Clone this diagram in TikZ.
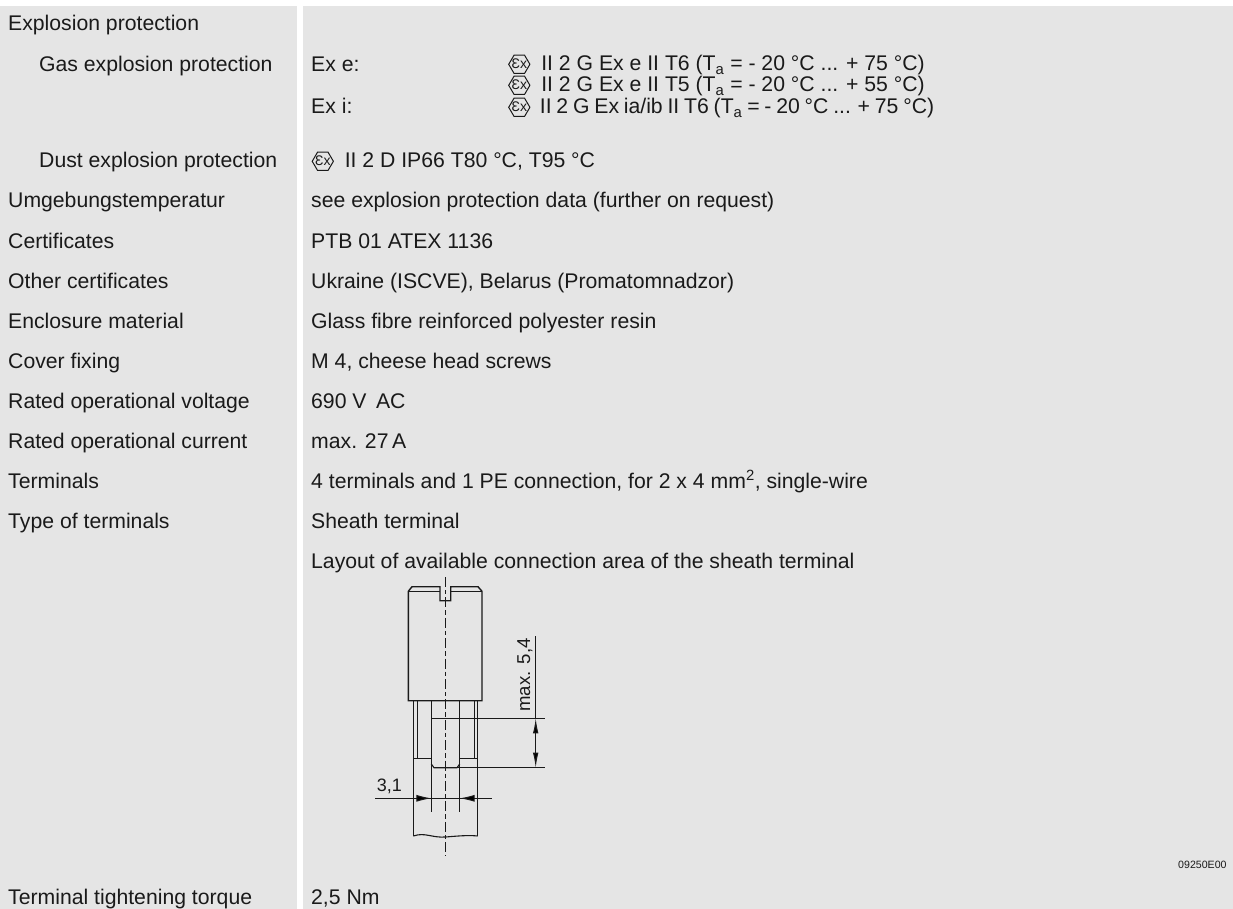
\documentclass[tikz,border=0pt]{standalone}
\usepackage{fontspec}
\setmainfont{Liberation Sans}
\usetikzlibrary{arrows.meta}
\definecolor{panelgray}{HTML}{E5E5E5}
\definecolor{inkgray}{HTML}{1A1A1A}
\newcommand{\exmark}{\tikz[baseline=-6.7pt,x=1pt,y=1pt,line width=1pt]{\draw[inkgray] (-10.6,0) -- (-5.2,9.2) -- (5.2,9.2) -- (10.6,0) -- (5.2,-9.2) -- (-5.2,-9.2) -- cycle; \node[anchor=center,inner sep=0pt,text=inkgray,font=\fontsize{14}{14}\selectfont] at (0,.2) {Ɛx};}\kern5pt}
\begin{document}
\begin{tikzpicture}[x=1pt,y=-1pt,
    every node/.style={anchor=base west,inner sep=0pt,text=inkgray,font=\fontsize{21.2}{21.2}\selectfont},
    part/.style={line width=1.4pt,draw=inkgray},
    thinpart/.style={line width=1.1pt,draw=inkgray},
    measure/.style={line width=1pt,draw=inkgray},
    dimarrow/.style={line width=1pt,draw=inkgray,{Latex[length=15pt,width=5.5pt]}-{Latex[length=15pt,width=5.5pt]}}]
\useasboundingbox (0,0) rectangle (1233,909);
% panels
\fill[panelgray] (0,6) rectangle (296.5,909);
\fill[panelgray] (303,6) rectangle (1233,909);
% left column
\node (explosion) at (8,31) {Explosion protection};
\node (gas) at (39,71.5) {Gas explosion protection};
\node (dust) at (39,168) {Dust explosion protection};
\node (ambient) at (8,208) {Umgebungstemperatur};
\node (certs) at (8,248) {Certificates};
\node (othercerts) at (8,288) {Other certificates};
\node (material) at (8,328) {Enclosure material};
\node (cover) at (8,368) {Cover fixing};
\node (voltage) at (8,408) {Rated operational voltage};
\node (current) at (8,448) {Rated operational current};
\node (terminals) at (8,488) {Terminals};
\node (termtype) at (8,528) {Type of terminals};
\node (torque) at (8,904.5) {Terminal tightening torque};
% right column
\node (exe) at (311,71.5) {Ex e:};
\node (exi) at (311,114) {Ex i:};
\node (markone) at (508,71) {\exmark\ II 2 G Ex e II T6 (T\textsubscript{a} = - 20 °C ... + 75 °C)};
\node (marktwo) at (508,92) {\exmark\ II 2 G Ex e II T5 (T\textsubscript{a} = - 20 °C ... + 55 °C)};
\node (markthree) at (508,114) {\spaceskip=4.8pt \exmark\kern4.5pt II 2 G Ex ia/ib II T6 (T\textsubscript{a} = - 20 °C ... + 75 °C)};
\node (dustval) at (311.5,168) {\exmark\ II 2 D IP66 T80 °C, T95 °C};
\node (ambientval) at (311,208) {see explosion protection data (further on request)};
\node (certval) at (311,248) {PTB 01 ATEX 1136};
\node (otherval) at (311,288) {Ukraine (ISCVE), Belarus (Promatomnadzor)};
\node (materialval) at (311,328) {Glass fibre reinforced polyester resin};
\node (coverval) at (311,368) {M 4, cheese head screws};
\node (voltageval) at (311,408) {690 V\, AC};
\node (currentval) at (311,448) {max. 27\,A};
\node (termval) at (311,488) {4 terminals and 1 PE connection, for 2 x 4 mm\textsuperscript{2}, single-wire};
\node (typeval) at (311,528) {Sheath terminal};
\node (layout) at (311,568) {Layout of available connection area of the sheath terminal};
\node (torqueval) at (311,904.5) {2,5 Nm};
\node[font=\fontsize{10.6}{10.6}\selectfont] (drawno) at (1178,868) {09250E00};
% terminal
\draw[part] (408.3,591.3) -- (412,586.7) -- (440,586.7) -- (440,600.7) -- (450.7,600.7) -- (450.7,586.7) -- (478,586.7) -- (482,591.3) -- (482,700.7) -- (408.3,700.7) -- cycle;
\draw[part] (408.3,591.3) -- (440,591.3) (450.7,591.3) -- (482,591.3);
\draw[part] (413.3,700.7) -- (413.3,758.3) (477.7,700.7) -- (477.7,758.3);
\draw[thinpart] (417.3,700.7) -- (417.3,758.3) (474.3,700.7) -- (474.3,758.3);
\draw[part] (413.3,758.3) -- (431.3,758.3) (459.7,758.3) -- (477.7,758.3);
\draw[part] (431.3,700.7) -- (431.3,718.3) -- (459.7,718.3) -- (459.7,700.7);
\draw[thinpart] (431.3,718.3) -- (431.3,811.7) (459.7,718.3) -- (459.7,811.7);
\draw[thinpart] (431.3,764) -- (434,767.7) -- (457,767.7) -- (459.7,764);
\draw[thinpart] (413.3,758.3) -- (413.3,836) (477.7,758.3) -- (477.7,836);
\draw[thinpart] (413.3,836) .. controls (425,832) and (432,838) .. (445.5,837) .. controls (458,836) and (468,835) .. (477.7,836);
\draw[line width=1.4pt,draw=inkgray,dash pattern=on 10pt off 3pt on 4.4pt off 3pt] (445.7,577) -- (445.7,856);
% dimensions
\coordinate (dimtop) at (535.7,718.3);
\coordinate (dimbot) at (535.7,767.7);
\draw[measure] (459.7,718.3) -- (545,718.3);
\draw[measure] (434,767.7) -- (545,767.7);
\draw[measure] (535.7,636) -- (dimtop);
\draw[dimarrow] (dimtop) -- (dimbot);
\coordinate (widthl) at (375,798.3);
\coordinate (widthr) at (492,798.3);
\coordinate (innerl) at (431.3,798.3);
\coordinate (innerr) at (459.7,798.3);
\draw[measure] (widthl) -- (widthr);
\draw[line width=1pt,draw=inkgray,-{Latex[length=15pt,width=7pt]}] (413.3,798.3) -- (innerl);
\draw[line width=1pt,draw=inkgray,-{Latex[length=15pt,width=7pt]}] (477.7,798.3) -- (innerr);
\node[rotate=90,font=\fontsize{18.6}{18.6}\selectfont] (maxlabel) at (530,711.7) {max. 5,4};
\node[font=\fontsize{18}{18}\selectfont] (widthlabel) at (376.7,791.7) {3,1};
\end{tikzpicture}
\end{document}
